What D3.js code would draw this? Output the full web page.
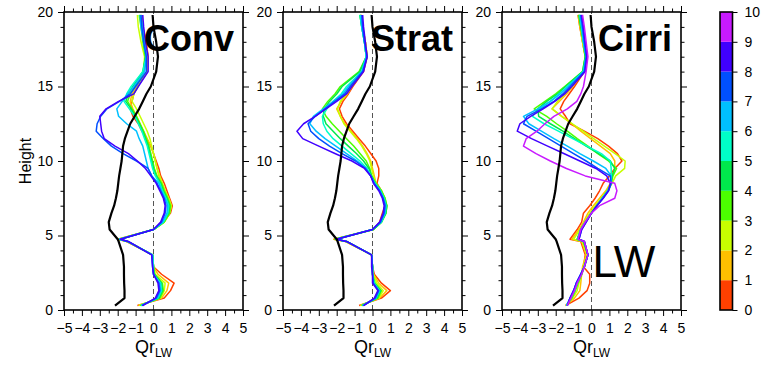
<!DOCTYPE html>
<html>
<head>
<meta charset="utf-8">
<script src="https://cdn.jsdelivr.net/npm/d3@7"></script>
<style>
  body { margin: 0; background: #fff; }
  svg { display: block; }
  text { font-family: "Liberation Sans", Arial, sans-serif; }
</style>
</head>
<body>
<svg id="chart" width="763" height="366"></svg>
<script>
// heights (km) shared by every profile
const levels = [0.3, 0.8, 1.3, 1.8, 2.4, 2.9, 3.7, 4.6, 4.75, 5.4, 5.9, 6.5, 7.0, 7.5, 8.0, 8.5,
  9.0, 9.5, 10.0, 10.5, 11.0, 11.5, 12.0, 12.5, 13.0, 13.5, 14.0, 14.5, 15.0, 16.0, 17.0, 18.0, 19.0, 19.8];

// black reference profile (same in every panel)
const blackProfile = [-2.15, -1.62, -1.62, -1.64, -1.65, -1.65, -1.7, -1.95, -2.0, -2.45, -2.5, -2.35, -2.2, -2.1, -2.02, -1.97,
  -1.92, -1.85, -1.78, -1.74, -1.7, -1.6, -1.45, -1.3, -1.05, -0.8, -0.6, -0.4, -0.15, 0.15, 0.25, 0.15, 0.0, -0.05];

// colour bins 0..10
const binLabels = [0, 1, 2, 3, 4, 5, 6, 7, 8, 9, 10];
const binColors = ["#ff4000", "#ffc000", "#c8ff00", "#4cff00", "#00e84c", "#00ffc8", "#00c0ff", "#0050ff", "#4000ff", "#c81aff"];

const panelNames = ["Conv", "Strat", "Cirri"];

const convLines = [
  [-0.9, 0.6, 0.95, 1.15, 0.45, 0.0, -0.05, -1.5, -2.0, 0.0, 0.55, 0.95, 1.05, 0.9, 0.75, 0.6, 0.4, 0.3, 0.15, 0.0, -0.15, -0.4, -0.65, -0.85, -1.15, -1.3, -1.2, -1.1, -0.9, -0.35, -0.3, -0.4, -0.6, -0.65],
  [-0.85, 0.45, 0.75, 0.85, 0.25, 0.0, -0.05, -1.5, -1.95, 0.0, 0.6, 0.9, 1.0, 0.85, 0.65, 0.45, 0.3, 0.2, 0.1, 0.0, -0.15, -0.35, -0.55, -0.75, -0.95, -1.15, -1.3, -1.2, -0.9, -0.35, -0.3, -0.45, -0.6, -0.7],
  [-0.8, 0.4, 0.6, 0.65, 0.1, 0.0, -0.05, -1.45, -1.95, 0.0, 0.6, 0.9, 1.0, 0.85, 0.65, 0.5, 0.35, 0.2, 0.1, 0.0, -0.1, -0.2, -0.35, -0.55, -0.75, -0.95, -1.2, -1.1, -0.85, -0.55, -0.5, -0.7, -0.85, -0.9],
  [-0.75, 0.35, 0.55, 0.5, 0.05, 0.0, -0.05, -1.45, -1.9, 0.0, 0.6, 0.9, 0.95, 0.8, 0.6, 0.45, 0.2, 0.05, -0.05, -0.15, -0.25, -0.4, -0.55, -0.75, -0.95, -1.2, -1.45, -1.3, -1.05, -0.55, -0.45, -0.6, -0.7, -0.8],
  [-0.7, 0.3, 0.5, 0.45, 0.05, 0.0, -0.05, -1.45, -1.9, 0.0, 0.55, 0.85, 0.9, 0.75, 0.55, 0.4, 0.15, 0.0, -0.1, -0.2, -0.3, -0.45, -0.6, -0.8, -1.0, -1.25, -1.55, -1.4, -1.15, -0.6, -0.45, -0.55, -0.65, -0.75],
  [-0.7, 0.25, 0.45, 0.4, 0.0, 0.0, -0.05, -1.45, -1.9, 0.0, 0.55, 0.8, 0.85, 0.7, 0.5, 0.35, 0.1, -0.05, -0.15, -0.25, -0.35, -0.5, -0.65, -0.85, -1.05, -1.35, -1.65, -1.5, -1.25, -0.6, -0.4, -0.5, -0.6, -0.7],
  [-0.65, 0.2, 0.4, 0.35, 0.0, -0.05, -0.05, -1.45, -1.9, 0.0, 0.5, 0.75, 0.8, 0.65, 0.45, 0.3, -0.1, -0.3, -0.4, -0.5, -0.6, -0.8, -0.95, -1.5, -1.95, -2.05, -1.75, -1.45, -1.1, -0.5, -0.4, -0.55, -0.7, -0.75],
  [-0.65, 0.15, 0.35, 0.3, 0.0, -0.05, -0.1, -1.45, -1.85, 0.0, 0.45, 0.65, 0.7, 0.6, 0.4, 0.2, -0.1, -0.3, -0.95, -1.7, -2.35, -2.8, -3.2, -3.15, -2.95, -2.6, -1.9, -1.3, -1.0, -0.4, -0.4, -0.55, -0.65, -0.7],
  [-0.6, 0.1, 0.3, 0.25, 0.0, -0.05, -0.1, -1.4, -1.85, 0.0, 0.4, 0.6, 0.65, 0.55, 0.35, 0.15, -0.15, -0.45, -0.9, -1.4, -2.15, -2.75, -2.9, -2.95, -3.0, -2.65, -1.95, -1.1, -0.85, -0.3, -0.3, -0.45, -0.55, -0.6]
];

const stratLines = [
  [-0.75, 0.5, 1.0, 0.5, 0.1, 0.0, -0.05, -1.5, -2.15, 0.05, 0.4, 0.55, 0.7, 0.65, 0.5, 0.25, 0.35, 0.35, 0.2, -0.1, -0.4, -0.75, -1.1, -1.45, -1.7, -1.85, -1.65, -1.35, -1.1, -0.5, -0.3, -0.4, -0.55, -0.65],
  [-0.7, 0.4, 0.8, 0.35, 0.05, 0.0, -0.05, -1.5, -2.15, 0.05, 0.45, 0.7, 0.75, 0.7, 0.5, 0.2, 0.1, 0.0, -0.1, -0.3, -0.55, -0.85, -1.2, -1.55, -1.8, -2.0, -1.75, -1.4, -1.15, -0.55, -0.3, -0.4, -0.55, -0.65],
  [-0.65, 0.35, 0.6, 0.25, 0.05, 0.0, -0.05, -1.45, -2.1, 0.05, 0.5, 0.75, 0.8, 0.7, 0.5, 0.2, 0.05, -0.05, -0.15, -0.35, -0.6, -0.9, -1.25, -1.6, -1.8, -1.95, -1.8, -1.45, -1.2, -0.55, -0.3, -0.4, -0.55, -0.65],
  [-0.6, 0.3, 0.5, 0.15, 0.0, 0.0, -0.05, -1.45, -2.1, 0.05, 0.5, 0.75, 0.8, 0.7, 0.5, 0.2, -0.05, -0.15, -0.35, -0.7, -1.05, -1.45, -1.85, -2.25, -2.6, -2.8, -2.5, -2.1, -1.8, -0.75, -0.35, -0.45, -0.6, -0.7],
  [-0.6, 0.25, 0.45, 0.1, 0.0, 0.0, -0.05, -1.45, -2.05, 0.05, 0.5, 0.75, 0.8, 0.65, 0.45, 0.15, -0.05, -0.2, -0.5, -0.9, -1.35, -1.8, -2.2, -2.6, -2.75, -2.7, -2.4, -2.0, -1.7, -0.7, -0.35, -0.45, -0.6, -0.7],
  [-0.55, 0.2, 0.4, 0.1, 0.0, 0.0, -0.05, -1.45, -2.05, 0.0, 0.5, 0.7, 0.75, 0.65, 0.45, 0.15, -0.1, -0.3, -0.7, -1.2, -1.7, -2.2, -2.55, -2.75, -2.8, -2.55, -2.2, -1.75, -1.45, -0.6, -0.35, -0.45, -0.6, -0.7],
  [-0.55, 0.2, 0.35, 0.05, 0.0, 0.0, -0.05, -1.45, -2.05, 0.0, 0.45, 0.7, 0.75, 0.6, 0.4, 0.1, -0.1, -0.35, -0.85, -1.45, -2.05, -2.65, -3.15, -3.5, -3.3, -2.75, -2.2, -1.65, -1.35, -0.6, -0.35, -0.45, -0.6, -0.65],
  [-0.5, 0.15, 0.35, 0.05, 0.0, 0.0, -0.05, -1.45, -2.0, 0.0, 0.45, 0.65, 0.7, 0.6, 0.4, 0.1, -0.1, -0.4, -0.95, -1.7, -2.4, -3.0, -3.45, -3.6, -3.2, -2.65, -2.1, -1.55, -1.25, -0.55, -0.3, -0.45, -0.55, -0.6],
  [-0.5, 0.1, 0.3, 0.0, 0.0, -0.05, -0.05, -1.45, -2.0, 0.0, 0.4, 0.6, 0.65, 0.55, 0.35, 0.05, -0.1, -0.45, -1.15, -2.1, -3.0, -3.9, -4.22, -3.85, -3.2, -2.6, -2.0, -1.45, -1.15, -0.5, -0.3, -0.4, -0.5, -0.55]
];

const cirriLines = [
  [-1.45, -0.7, -0.25, -0.1, -0.1, -0.45, -0.35, -0.6, -1.2, -0.8, -0.55, -0.45, -0.1, 0.2, 0.45, 0.65, 1.0, 1.3, 1.7, 1.45, 0.95, 0.35, -0.4, -1.2, -1.45, -1.75, -1.55, -1.25, -0.95, -0.4, -0.35, -0.5, -0.65, -0.75],
  [-1.45, -0.95, -0.65, -0.6, -0.55, -0.5, -0.3, -0.55, -1.1, -0.7, -0.45, -0.2, 0.1, 0.45, 0.8, 1.05, 1.15, 1.3, 1.3, 1.05, 0.5, -0.05, -0.6, -1.1, -1.66, -2.2, -1.8, -1.4, -1.05, -0.45, -0.35, -0.5, -0.65, -0.75],
  [-1.4, -1.05, -0.8, -0.7, -0.55, -0.45, -0.25, -0.5, -1.0, -0.65, -0.4, -0.1, 0.2, 0.55, 0.9, 1.15, 1.35, 1.85, 1.88, 1.32, 0.72, 0.12, -0.47, -1.07, -1.67, -2.2, -1.9, -1.5, -1.1, -0.45, -0.35, -0.5, -0.6, -0.7],
  [-1.4, -1.1, -0.9, -0.75, -0.55, -0.4, -0.2, -0.45, -0.8, -0.6, -0.35, 0.0, 0.3, 0.6, 0.9, 1.1, 1.2, 1.4, 0.95, 0.35, -0.2, -0.8, -1.35, -1.95, -2.5, -3.2, -2.6, -2.0, -1.5, -0.5, -0.35, -0.45, -0.6, -0.7],
  [-1.4, -1.15, -0.95, -0.8, -0.55, -0.4, -0.2, -0.45, -0.8, -0.6, -0.35, 0.0, 0.3, 0.6, 0.9, 1.1, 1.15, 1.3, 1.05, 0.4, -0.3, -0.95, -1.6, -2.3, -2.95, -3.0, -2.5, -1.9, -1.45, -0.5, -0.35, -0.45, -0.6, -0.7],
  [-1.4, -1.15, -0.95, -0.8, -0.6, -0.4, -0.2, -0.4, -0.75, -0.6, -0.35, 0.0, 0.3, 0.6, 0.9, 1.1, 1.1, 1.1, 1.05, 0.55, -0.25, -1.05, -1.85, -2.65, -3.3, -2.9, -2.3, -1.8, -1.35, -0.45, -0.3, -0.45, -0.55, -0.65],
  [-1.4, -1.2, -1.0, -0.85, -0.6, -0.4, -0.2, -0.4, -0.75, -0.6, -0.35, 0.0, 0.3, 0.6, 0.95, 1.1, 1.1, 0.8, 0.1, -0.65, -1.35, -2.1, -2.8, -3.5, -3.8, -3.0, -2.3, -1.75, -1.3, -0.45, -0.3, -0.45, -0.55, -0.65],
  [-1.35, -1.2, -1.0, -0.85, -0.6, -0.4, -0.2, -0.4, -0.7, -0.55, -0.3, 0.0, 0.3, 0.65, 0.95, 1.1, 1.05, 0.35, -0.3, -1.0, -1.7, -2.4, -3.1, -3.8, -3.6, -2.8, -2.1, -1.6, -1.2, -0.4, -0.3, -0.4, -0.5, -0.6],
  [-1.35, -1.2, -1.0, -0.85, -0.6, -0.4, -0.2, -0.4, -0.7, -0.55, -0.3, 0.0, 0.3, 0.65, 0.95, 1.05, 0.85, 0.25, -0.65, -1.55, -2.45, -3.35, -4.15, -4.0, -3.4, -2.7, -2.05, -1.5, -1.1, -0.35, -0.25, -0.35, -0.45, -0.55],
  [-1.35, -1.15, -0.95, -0.8, -0.55, -0.4, -0.2, -0.4, -0.75, -0.6, -0.35, 0.0, 0.45, 1.3, 1.42, 1.3, -0.35, -1.4, -2.3, -3.1, -3.8, -3.65, -3.05, -2.6, -2.1, -1.35, -0.82, -0.6, -0.45, -0.3, -0.2, -0.3, -0.4, -0.5]
];

const allPanels = [convLines, stratLines, cirriLines];

// layout
const svg = d3.select("#chart");
const plotTop = 12, plotBottom = 310, panelW = 179;
const panelLeft = [64, 283, 502];
const fontFam = '"Liberation Sans", Arial, sans-serif';

const y = d3.scaleLinear().domain([0, 20]).range([plotBottom, plotTop]);

function styleAxis(g) {
  g.select(".domain").remove();
  g.selectAll(".tick line").attr("stroke", "#000").attr("stroke-width", 1);
  g.attr("font-size", 14).attr("font-family", fontFam);
  g.selectAll("text").attr("fill", "#000");
}

allPanels.forEach(function (lines, i) {
  const x = d3.scaleLinear().domain([-5, 5]).range([panelLeft[i], panelLeft[i] + panelW]);
  const g = svg.append("g");

  // dashed zero line
  g.append("line")
    .attr("x1", x(0)).attr("x2", x(0))
    .attr("y1", y(0)).attr("y2", y(20))
    .attr("stroke", "#555").attr("stroke-width", 1)
    .attr("stroke-dasharray", "5,3");

  const line = d3.line().x(d => x(d[0])).y(d => y(d[1]));

  lines.forEach(function (vals, k) {
    g.append("path")
      .datum(vals.map((v, j) => [v, levels[j]]))
      .attr("d", line)
      .attr("fill", "none")
      .attr("stroke", binColors[k])
      .attr("stroke-width", 1.5)
      .attr("stroke-linejoin", "round");
  });

  g.append("path")
    .datum(blackProfile.map((v, j) => [v, levels[j]]))
    .attr("d", line)
    .attr("fill", "none")
    .attr("stroke", "#000")
    .attr("stroke-width", 2.2)
    .attr("stroke-linejoin", "round");

  // frame
  g.append("rect")
    .attr("x", x(-5)).attr("y", y(20))
    .attr("width", x(5) - x(-5)).attr("height", y(0) - y(20))
    .attr("fill", "none").attr("stroke", "#000").attr("stroke-width", 1.6);

  const majX = d3.range(-5, 6, 1);
  const minX = d3.range(-4.5, 5, 1);
  const majY = [0, 5, 10, 15, 20];
  const minY = d3.range(1, 20).filter(v => v % 5 !== 0);

  g.append("g").attr("transform", "translate(0," + plotBottom + ")")
    .call(d3.axisBottom(x).tickValues(majX).tickSize(6).tickPadding(7)).call(styleAxis);
  g.append("g").attr("transform", "translate(0," + plotBottom + ")")
    .call(d3.axisBottom(x).tickValues(minX).tickSize(3.5).tickFormat("")).call(styleAxis);
  g.append("g").attr("transform", "translate(0," + plotTop + ")")
    .call(d3.axisTop(x).tickValues(majX).tickSize(6).tickFormat("")).call(styleAxis);
  g.append("g").attr("transform", "translate(0," + plotTop + ")")
    .call(d3.axisTop(x).tickValues(minX).tickSize(3.5).tickFormat("")).call(styleAxis);

  g.append("g").attr("transform", "translate(" + x(-5) + ",0)")
    .call(d3.axisLeft(y).tickValues(majY).tickSize(6).tickPadding(5)).call(styleAxis);
  g.append("g").attr("transform", "translate(" + x(-5) + ",0)")
    .call(d3.axisLeft(y).tickValues(minY).tickSize(3.5).tickFormat("")).call(styleAxis);
  g.append("g").attr("transform", "translate(" + x(5) + ",0)")
    .call(d3.axisRight(y).tickValues(majY).tickSize(6).tickFormat("")).call(styleAxis);
  g.append("g").attr("transform", "translate(" + x(5) + ",0)")
    .call(d3.axisRight(y).tickValues(minY).tickSize(3.5).tickFormat("")).call(styleAxis);

  // panel name
  g.append("text")
    .attr("x", x(5) - 9).attr("y", 51)
    .attr("text-anchor", "end")
    .attr("font-size", 36).attr("font-weight", "bold")
    .text(panelNames[i]);

  // x label Qr_LW
  const xl = g.append("text")
    .attr("x", x(0)).attr("y", 353)
    .attr("text-anchor", "middle")
    .attr("font-size", 18);
  xl.append("tspan").text("Qr");
  xl.append("tspan").attr("font-size", 12).attr("dy", 4).text("LW");

  if (i === 0) {
    g.append("text")
      .attr("transform", "translate(25," + y(10) + ") rotate(-90)")
      .attr("text-anchor", "middle")
      .attr("dy", "0.35em")
      .attr("font-size", 16)
      .text("Height");
  }
  if (i === 2) {
    g.append("text")
      .attr("x", x(0) + 1).attr("y", 277)
      .attr("font-size", 44)
      .text("LW");
  }
});

// colour bar
const cb = d3.scaleLinear().domain([0, 10]).range([plotBottom, plotTop]);
const cbX = 720, cbW = 12.5;
svg.append("g").selectAll("rect")
  .data(binColors)
  .enter().append("rect")
  .attr("x", cbX)
  .attr("y", (c, k) => cb(k + 1))
  .attr("width", cbW)
  .attr("height", (c, k) => cb(k) - cb(k + 1))
  .attr("fill", c => c);
svg.append("rect")
  .attr("x", cbX).attr("y", cb(10))
  .attr("width", cbW).attr("height", cb(0) - cb(10))
  .attr("fill", "none").attr("stroke", "#000").attr("stroke-width", 1.6);
svg.append("g").attr("transform", "translate(" + (cbX + cbW) + ",0)")
  .call(d3.axisRight(cb).tickValues(binLabels).tickSize(5).tickPadding(7)).call(styleAxis);
</script>
</body>
</html>
